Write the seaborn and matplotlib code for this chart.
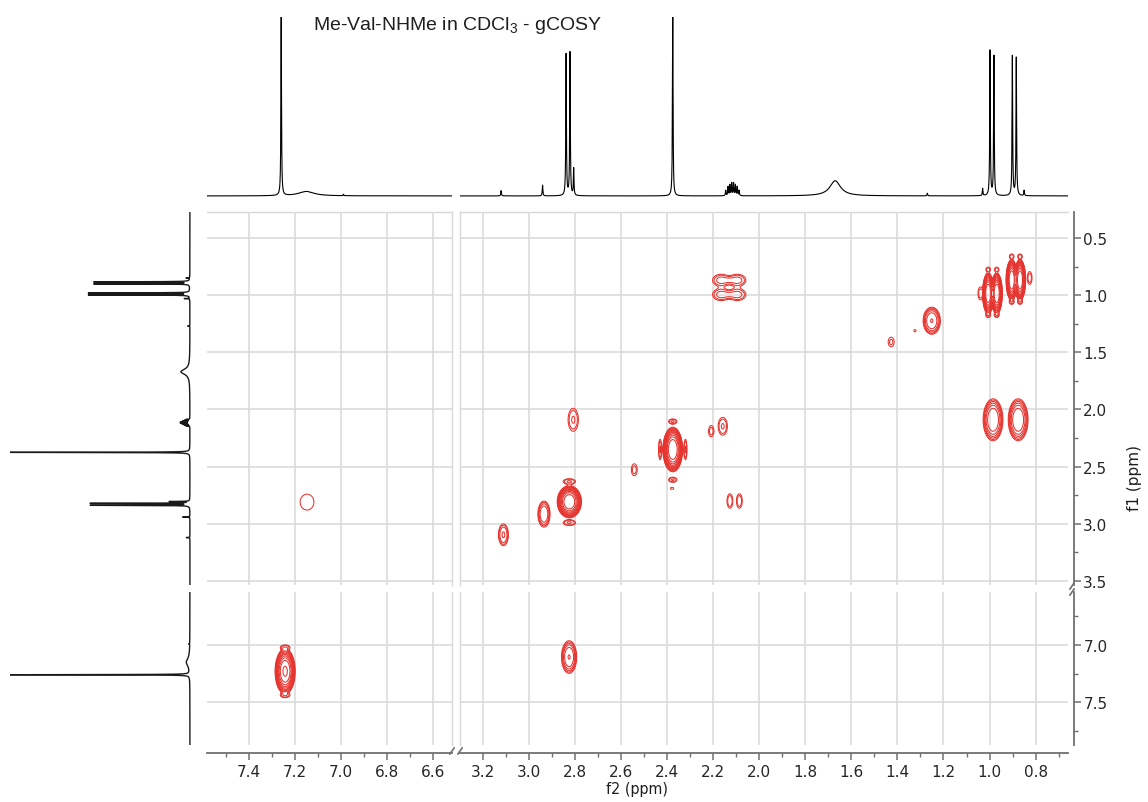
import numpy as np
import pandas as pd
import matplotlib
matplotlib.use("Agg")
import matplotlib.pyplot as plt
from matplotlib.ticker import MultipleLocator
from matplotlib.lines import Line2D
import seaborn as sns

# ---------------- data ----------------
title = r"Me-Val-NHMe in CDCl$_3$ - gCOSY"
x_label = "f2 (ppm)"
y_label = "f1 (ppm)"

f2_ticks_left = [7.4, 7.2, 7.0, 6.8, 6.6]
f2_ticks_right = [3.2, 3.0, 2.8, 2.6, 2.4, 2.2, 2.0, 1.8, 1.6, 1.4, 1.2, 1.0, 0.8]
f1_ticks_top = [0.5, 1.0, 1.5, 2.0, 2.5, 3.0, 3.5]
f1_ticks_bottom = [7.0, 7.5]

f2_range_left = (7.582, 6.519)
f2_range_right = (3.2985, 0.6596)
f1_range_top = (0.273, 3.535)
f1_range_bottom = (6.536, 7.875)

# 1D 1H spectrum peak list (ppm, height in top trace, height in left trace, half width)
h1_ppm = [7.26, 7.15, 6.99, 3.12, 2.94, 2.838, 2.821, 2.805, 2.375,
          2.145, 2.135, 2.127, 2.119, 2.111, 2.103, 2.095, 2.087,
          1.67, 1.27, 1.03, 0.998, 0.981, 0.901, 0.884, 0.85]
h1_top_int = [1.0, 0.025, 0.008, 0.03, 0.06, 0.79, 0.80, 0.15, 1.0,
              0.03, 0.05, 0.06, 0.07, 0.07, 0.06, 0.05, 0.03,
              0.085, 0.015, 0.04, 0.81, 0.78, 0.78, 0.77, 0.03]
h1_left_int = [1.0, 0.02, 0.006, 0.02, 0.04, 0.55, 0.55, 0.11, 1.0,
               0.02, 0.03, 0.04, 0.05, 0.05, 0.04, 0.03, 0.02,
               0.05, 0.012, 0.03, 0.56, 0.56, 0.53, 0.53, 0.02]
h1_hwhm = [0.0015, 0.04, 0.0015, 0.0015, 0.0015, 0.0015, 0.0015, 0.0015, 0.0015,
           0.0015, 0.0015, 0.0015, 0.0015, 0.0015, 0.0015, 0.0015, 0.0015,
           0.028, 0.0015, 0.0015, 0.0015, 0.0015, 0.0015, 0.0015, 0.0015]

# 2D gCOSY peaks (f2 ppm, f1 ppm, amplitude, width f2, width f1)
cosy_f2 = [2.375, 2.43, 2.32, 2.375, 2.375, 2.378,
           2.824, 2.824, 2.824, 2.934, 3.11, 2.807, 2.542, 2.208, 2.158, 2.127, 2.086,
           2.165, 2.095, 2.165, 2.095, 0.985, 0.876,
           1.006, 0.969, 0.904, 0.868,
           1.006, 0.969, 1.006, 0.969, 0.904, 0.868, 0.904, 0.868, 1.04, 0.826,
           1.251, 1.324, 1.427,
           7.148, 7.243, 7.243, 7.243, 2.825]
cosy_f1 = [2.35, 2.35, 2.35, 2.105, 2.615, 2.69,
           2.807, 2.63, 2.99, 2.915, 3.096, 2.09, 2.527, 2.19, 2.147, 2.80, 2.80,
           0.87, 0.87, 0.995, 0.995, 2.09, 2.09,
           0.985, 0.985, 0.867, 0.867,
           0.775, 0.775, 1.175, 1.175, 0.66, 0.66, 1.06, 1.06, 0.985, 0.85,
           1.224, 1.311, 1.41,
           2.81, 7.23, 7.02, 7.44, 7.105]
cosy_amp = [40, 2.0, 2.0, 2.0, 2.0, 1.4,
            40, 2.0, 2.0, 3.8, 2.8, 2.0, 1.6, 1.6, 2.0, 1.8, 1.8,
            2.2, 2.2, 2.2, 2.2, 7.5, 7.5,
            40, 40, 40, 40,
            1.6, 1.6, 1.6, 1.6, 1.6, 1.6, 1.6, 1.6, 1.7, 1.7,
            5.4, 1.3, 1.5,
            1.3, 30, 1.5, 1.5, 5.4]
cosy_w2 = [0.022, 0.006, 0.006, 0.016, 0.016, 0.008,
           0.027, 0.024, 0.024, 0.019, 0.017, 0.020, 0.013, 0.012, 0.018, 0.012, 0.012,
           0.032, 0.032, 0.032, 0.032, 0.027, 0.027,
           0.0125, 0.0125, 0.0125, 0.0125,
           0.010, 0.010, 0.010, 0.010, 0.010, 0.010, 0.010, 0.010, 0.010, 0.010,
           0.025, 0.006, 0.014,
           0.037, 0.023, 0.020, 0.020, 0.022]
cosy_w1 = [0.100, 0.080, 0.080, 0.020, 0.020, 0.010,
           0.072, 0.022, 0.022, 0.082, 0.075, 0.090, 0.053, 0.050, 0.070, 0.060, 0.060,
           0.045, 0.045, 0.045, 0.045, 0.115, 0.115,
           0.092, 0.092, 0.092, 0.092,
           0.020, 0.020, 0.020, 0.020, 0.020, 0.020, 0.020, 0.020, 0.055, 0.055,
           0.079, 0.012, 0.045,
           0.086, 0.105, 0.020, 0.020, 0.095]

contour_levels = 1.4 ** np.arange(14)

# ---------------- helpers ----------------
def spectrum(lo, hi, intens):
    grid = np.linspace(lo, hi, int((hi - lo) / 0.0004) + 1)
    centers = [p for p in h1_ppm if lo <= p <= hi]
    grid = np.unique(np.concatenate([grid, centers]))
    y = np.zeros_like(grid)
    for p, h, w in zip(h1_ppm, intens, h1_hwhm):
        y += h * w ** 2 / ((grid - p) ** 2 + w ** 2)
    return grid, y


def cosy_field(f2lim, f1lim, dx=0.0012, dy=0.0035):
    x = np.arange(min(f2lim), max(f2lim) + dx, dx)
    y = np.arange(min(f1lim), max(f1lim) + dy, dy)
    Z = np.zeros((len(y), len(x)))
    for px, py, a, sx, sy in zip(cosy_f2, cosy_f1, cosy_amp, cosy_w2, cosy_w1):
        ix = np.where((x > px - 6 * sx) & (x < px + 6 * sx))[0]
        iy = np.where((y > py - 6 * sy) & (y < py + 6 * sy))[0]
        if len(ix) == 0 or len(iy) == 0:
            continue
        ddx = (x[ix] - px) / sx
        ddy = (y[iy] - py) / sy
        q = ddy[:, None] ** 2 + ddx[None, :] ** 2
        Z[np.ix_(iy, ix)] += a * np.exp(-0.5 * q ** 1.5)
    return x, y, Z


# ---------------- figure ----------------
sns.set_theme(style="white")
plt.rcParams["font.family"] = ["DejaVu Sans"]
plt.rcParams["mathtext.fontset"] = "custom"
plt.rcParams["mathtext.rm"] = "Liberation Sans"

W, H = 1148, 803
fig = plt.figure(figsize=(W / 100, H / 100), dpi=100)
fig.patch.set_facecolor("white")


def frac(x0, x1, y0, y1):
    return [x0 / W, 1 - y1 / H, (x1 - x0) / W, (y1 - y0) / H]


cols = {"L": ((207, 452), f2_range_left, f2_ticks_left),
        "R": ((460, 1068), f2_range_right, f2_ticks_right)}
rows = {"T": ((213, 586), f1_range_top, f1_ticks_top),
        "B": ((593, 746), f1_range_bottom, f1_ticks_bottom)}

RED = "#e6332e"
GRID = "#d8d8d8"
AXC = "#707070"
TXT = "#1e1e1e"

for rk, (rpx, f1r, f1t) in rows.items():
    for ck, (cpx, f2r, f2t) in cols.items():
        ax = fig.add_axes(frac(cpx[0], cpx[1], rpx[0], rpx[1]))
        ax.set_facecolor("white")
        x, y, Z = cosy_field(f2r, f1r)
        ax.contour(x, y, Z, levels=contour_levels, colors=RED, linewidths=0.75, zorder=3)
        ax.set_xlim(f2r[0], f2r[1])
        ax.set_ylim(f1r[1], f1r[0])
        ax.set_axisbelow(True)
        ax.grid(True, color=GRID, lw=1.1)
        for s in ax.spines.values():
            s.set_color(GRID)
            s.set_linewidth(1.0)
        ax.spines["left"].set_visible(ck == "R")
        ax.spines["right"].set_visible(True)
        ax.spines["top"].set_visible(rk == "T")
        ax.spines["bottom"].set_visible(rk == "B")
        ax.tick_params(left=False, right=False, top=False, bottom=False,
                       labelleft=False, labelright=False, labelbottom=False, labeltop=False)
        # x axis
        if rk == "B":
            ax.set_xticks(f2t, labels=[f"{v:.1f}" for v in f2t],
                          fontsize=11, fontstretch="condensed", color=TXT)
            ax.xaxis.set_minor_locator(MultipleLocator(0.1))
            ax.spines["bottom"].set_position(("outward", 6))
            ax.spines["bottom"].set_color(AXC)
            ax.spines["bottom"].set_linewidth(1.3)
            ax.tick_params(axis="x", which="major", bottom=True, labelbottom=True,
                           direction="out", length=5, width=1.1, color=AXC, pad=3)
            ax.tick_params(axis="x", which="minor", bottom=True, direction="out",
                           length=3, width=1.0, color=AXC)
        else:
            ax.set_xticks(f2t)
        # y axis
        if ck == "R":
            ax.yaxis.tick_right()
            ax.set_yticks(f1t, labels=[f"{v:.1f}" for v in f1t], fontsize=10.5, color=TXT)
            ax.yaxis.set_minor_locator(MultipleLocator(0.25))
            ax.spines["right"].set_position(("outward", 4))
            ax.spines["right"].set_color(AXC)
            ax.spines["right"].set_linewidth(1.3)
            ax.tick_params(axis="y", which="major", right=True, labelright=True, left=False,
                           labelleft=False, direction="out", length=5, width=1.1,
                           color=AXC, pad=2)
            ax.tick_params(axis="y", which="minor", right=True, left=False,
                           direction="out", length=3, width=1.0, color=AXC)
        else:
            ax.set_yticks(f1t)
            ax.tick_params(axis="y", which="both", left=False, right=False,
                           labelleft=False, labelright=False)

# top 1D trace
for ck, (cpx, f2r, f2t) in cols.items():
    ax = fig.add_axes(frac(cpx[0], cpx[1], 18, 198))
    g, s = spectrum(min(f2r), max(f2r), h1_top_int)
    df = pd.DataFrame({"ppm": g, "I": s})
    sns.lineplot(data=df, x="ppm", y="I", ax=ax, color="black", lw=0.8,
                 estimator=None, sort=True)
    ax.set_xlim(f2r[0], f2r[1])
    ax.set_ylim(-0.006, 1.0)
    ax.axis("off")

# left 1D trace
for rk, (rpx, f1r, f1t) in rows.items():
    ax = fig.add_axes(frac(10, 191, rpx[0], rpx[1]))
    g, s = spectrum(min(f1r), max(f1r), h1_left_int)
    df = pd.DataFrame({"ppm": g, "I": s})
    sns.lineplot(data=df, x="I", y="ppm", ax=ax, color="#1a1a1a", lw=1.0,
                 estimator=None, sort=False)
    ax.set_xlim(1.0, -0.006)
    ax.set_ylim(f1r[1], f1r[0])
    ax.axis("off")


# axis break marks
def slash(xc, yc, dx=2.2, dy=3.2):
    fig.add_artist(Line2D([(xc - dx) / W, (xc + dx) / W],
                          [1 - (yc + dy) / H, 1 - (yc - dy) / H],
                          transform=fig.transFigure, color=AXC, lw=1.2))


slash(452, 752)
slash(460, 752)
slash(1072, 587)
slash(1072, 593)

# texts
fig.text(313 / W, 1 - 25 / H, title, fontsize=14, family="Liberation Sans",
         color=TXT, ha="left", va="center")
fig.text(637 / W, 1 - 790 / H, x_label, fontsize=11.5, fontstretch="condensed",
         color=TXT, ha="center", va="center")
fig.text(1135 / W, 1 - 478 / H, y_label, fontsize=11, rotation=90,
         color=TXT, ha="center", va="center")

fig.savefig("out.png", dpi=100, facecolor="white")
